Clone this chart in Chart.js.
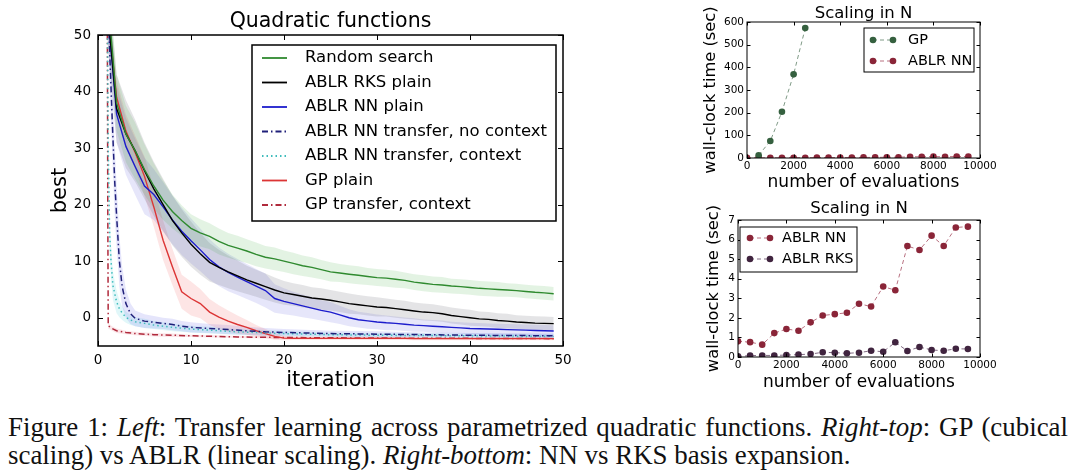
<!DOCTYPE html>
<html><head><meta charset="utf-8">
<script src="https://cdn.jsdelivr.net/npm/chart.js@4.4.1/dist/chart.umd.min.js"></script>
<style>
html,body{margin:0;padding:0;background:#fff;width:1080px;height:474px;overflow:hidden;}
canvas{position:absolute;display:block;}
#cap{position:absolute;left:8px;top:413px;font-family:"Liberation Serif","Times New Roman",serif;font-size:26.9px;line-height:28px;color:#111;white-space:nowrap;}
#cap .l1{display:block;width:1060px;text-align:justify;text-align-last:justify;}
#cap .l2{display:block;}
</style></head><body>
<canvas id="c1" width="600" height="395" style="left:0;top:0;width:600px;height:395px"></canvas>
<canvas id="c2" width="390" height="195" style="left:690px;top:0;width:390px;height:195px"></canvas>
<canvas id="c3" width="390" height="200" style="left:690px;top:195px;width:390px;height:200px"></canvas>
<div id="cap"><span class="l1">Figure 1: <i>Left</i>: Transfer learning across parametrized quadratic functions. <i>Right-top</i>: GP (cubical</span><span class="l2">scaling) vs ABLR (linear scaling). <i>Right-bottom</i>: NN vs RKS basis expansion.</span></div>
<script>
// ---------- Left chart data ----------
const iterations = [1,2,3,4,5,6,7,8,9,10,11,12,13,14,15,16,17,18,19,20,21,22,23,24,25,26,27,28,29,30,31,32,33,34,35,36,37,38,39,40,41,42,43,44,45,46,47,48,49];
const randomSearch = [58,38,32.5,29.5,26.2,23.3,20.8,18.8,17.2,15.8,15.0,14.4,13.5,12.8,12.3,11.8,11.2,10.7,10.4,10.0,9.6,9.2,8.9,8.5,8.1,7.9,7.7,7.5,7.3,7.1,7.0,6.8,6.6,6.3,6.1,5.9,5.8,5.6,5.5,5.35,5.2,5.1,5.0,4.9,4.8,4.65,4.5,4.4,4.25];
const randomSearchSpread = [5,5,5,5,4.5,4,3.5,3,2.7,2.5,2.4,2.3,2.3,2.2,2.2,2.1,2.1,2.0,2.0,1.9,1.9,1.8,1.8,1.7,1.7,1.6,1.6,1.6,1.5,1.5,1.5,1.5,1.4,1.4,1.4,1.4,1.4,1.3,1.3,1.3,1.3,1.3,1.3,1.2,1.2,1.2,1.2,1.2,1.2];
const ablrRksPlain = [55,37,32.5,29.5,26,22.8,20.0,17.2,15.0,13.0,11.3,9.8,8.9,8.1,7.4,6.7,6.1,5.5,4.9,4.4,4.1,3.8,3.5,3.3,3.1,2.8,2.5,2.3,2.1,1.9,1.8,1.6,1.4,1.2,1.0,0.9,0.7,0.4,0.2,0.0,-0.2,-0.3,-0.5,-0.6,-0.75,-0.85,-0.95,-1.0,-1.05];
const ablrRksSpread = [6,6,6,5.5,5,4.8,4.6,4.4,4.2,4.0,3.7,3.4,3.1,2.9,2.7,2.5,2.4,2.3,2.2,2.1,2.0,2.0,1.9,1.9,1.8,1.8,1.8,1.7,1.7,1.7,1.6,1.6,1.6,1.5,1.5,1.5,1.4,1.4,1.4,1.4,1.3,1.3,1.3,1.3,1.2,1.2,1.2,1.2,1.2];
const ablrNnPlain = [55,36,30.3,26.7,23.3,21.8,19.6,17.3,15.3,13.6,12.0,10.3,9.0,8.0,7.2,6.4,5.6,4.8,3.4,2.9,2.5,2.1,1.7,1.3,1.0,0.5,0.0,-0.35,-0.55,-0.75,-0.9,-1.0,-1.15,-1.3,-1.4,-1.5,-1.6,-1.7,-1.8,-1.9,-1.95,-2.0,-2.05,-2.1,-2.15,-2.2,-2.25,-2.3,-2.35];
const ablrNnSpread = [5,5,5,5,5,4.5,4.4,4.3,4.2,4.0,3.8,3.6,3.4,3.3,3.2,3.1,3.0,3.0,2.5,2.3,2.1,2.0,1.9,1.8,1.8,1.6,1.5,1.4,1.4,1.3,1.3,1.2,1.2,1.2,1.1,1.1,1.1,1.0,1.0,1.0,1.0,1.0,1.0,1.0,1.0,1.0,1.0,1.0,1.0];
const gpPlain = [55,39,33,29.2,25,19.6,13.7,9.0,4.6,3.4,2.5,1.0,0.1,-0.6,-1.2,-1.7,-2.3,-2.8,-3.3,-3.6,-3.65,-3.65,-3.65,-3.65,-3.65,-3.65,-3.65,-3.65,-3.65,-3.65,-3.65,-3.65,-3.65,-3.7,-3.7,-3.7,-3.7,-3.7,-3.7,-3.7,-3.7,-3.7,-3.7,-3.7,-3.7,-3.7,-3.7,-3.7,-3.7];
const gpPlainSpread = [3,3,3,3,3.5,3.5,3.5,3.2,3.0,3.0,2.6,2.3,2.1,1.9,1.6,1.3,1.0,0.8,0.6,0.4,0.3,0.3,0.3,0.3,0.3,0.3,0.3,0.3,0.3,0.3,0.3,0.3,0.3,0.3,0.3,0.3,0.3,0.3,0.3,0.3,0.3,0.3,0.3,0.3,0.3,0.3,0.3,0.3,0.3];

const nnNoCtxIter = [1,1.3,1.6,1.8,2.0,2.3,2.6,3.0,3.5,4,5,6,7,8,9,10,12,14,16,18,20,25,30,35,40,45,49];
const nnNoCtx = [60,45,32,24,18,10,5.5,2.5,0.7,-0.1,-0.6,-0.8,-1.0,-1.2,-1.5,-1.7,-1.9,-2.1,-2.3,-2.5,-2.6,-2.8,-2.9,-3.0,-3.1,-3.15,-3.2];
const nnNoCtxSpread = [6,6,6,6,5.5,4.5,3.5,2.5,1.8,1.4,1.2,1.1,1.0,1.0,0.9,0.9,0.8,0.8,0.7,0.7,0.6,0.5,0.5,0.4,0.4,0.4,0.4];
const nnCtxIter = [1,1.1,1.25,1.4,1.6,2.0,2.3,2.6,3.0,3.5,4,5,6,8,10,12,15,20,25,30,40,49];
const nnCtx = [55,30,15,10,5.7,2.8,1.6,0.8,0.1,-0.4,-0.7,-1.0,-1.3,-1.7,-2.0,-2.2,-2.5,-2.8,-3.0,-3.1,-3.2,-3.3];
const nnCtxSpread = [4,4,3.5,3,2.5,2,1.5,1.2,1.0,0.9,0.8,0.8,0.7,0.7,0.6,0.6,0.5,0.5,0.4,0.4,0.4,0.4];
const gpTransferIter = [1,1.05,1.1,1.5,2,3,4,6,8,10,15,20,30,40,49];
const gpTransfer = [55,20,-1.4,-1.9,-2.3,-2.6,-2.8,-3.0,-3.1,-3.2,-3.4,-3.5,-3.6,-3.65,-3.7];
const gpTransferSpread = [1,1,0.5,0.4,0.4,0.3,0.3,0.3,0.3,0.2,0.2,0.2,0.2,0.2,0.2];

const quadXTicks = [0,10,20,30,40,50];
const quadYTicks = [0,10,20,30,40,50];

// ---------- Right charts data ----------
const evalsGP = [500,1000,1500,2000,2500];
const timeGP = [12,75,204,369,573];
const evalsNN = [0,500,1000,1500,2000,2500,3000,3500,4000,4500,5000,5500,6000,6500,7000,7500,8000,8500,9000,9500];
const timeNN = [0.80,0.76,0.63,1.22,1.43,1.34,1.77,2.12,2.19,2.26,2.72,2.58,3.6,3.41,5.67,5.47,6.2,5.67,6.62,6.66];
const timeRKS = [0.03,0.07,0.08,0.08,0.1,0.12,0.15,0.24,0.22,0.19,0.22,0.32,0.27,0.75,0.31,0.51,0.36,0.32,0.42,0.41];
const evalTicks = [0,2000,4000,6000,8000,10000];
const topYTicks = [0,100,200,300,400,500,600];
const botYTicks = [0,1,2,3,4,5,6,7];

const FONT = '"DejaVu Sans", "Liberation Sans", sans-serif';
const pts = (xs, ys) => xs.map((x, i) => ({x, y: ys[i]}));
const ptsOff = (xs, ys, sp, s) => xs.map((x, i) => ({x, y: ys[i] + s * sp[i]}));
const plain = v => String(v);

// ---------- matplotlib-like frame / ticks / title / legend plugin ----------
const mplPlugin = {
  id: 'mpl',
  afterDraw(chart, args, o) {
    const ctx = chart.ctx, a = chart.chartArea;
    ctx.save();
    ctx.strokeStyle = '#000';
    ctx.lineWidth = 1;
    const xs = chart.scales.x, ys = chart.scales.y, tl = o.tickLen;
    const seg = (x1, y1, x2, y2) => { ctx.beginPath(); ctx.moveTo(x1, y1); ctx.lineTo(x2, y2); ctx.stroke(); };
    xs.ticks.forEach(t => { const p = Math.round(xs.getPixelForValue(t.value)) + 0.5; seg(p, a.bottom, p, a.bottom - tl); seg(p, a.top, p, a.top + tl); });
    ys.ticks.forEach(t => { const p = Math.round(ys.getPixelForValue(t.value)) + 0.5; seg(a.left, p, a.left + tl, p); seg(a.right, p, a.right - tl, p); });
    ctx.lineWidth = o.frameWidth;
    ctx.strokeRect(a.left, a.top, a.right - a.left, a.bottom - a.top);
    // title
    ctx.fillStyle = '#000';
    ctx.font = o.titleSize + 'px ' + FONT;
    ctx.textAlign = 'center'; ctx.textBaseline = 'middle';
    ctx.fillText(o.title, (a.left + a.right) / 2, o.titleY);
    // legend
    const L = o.legend;
    ctx.fillStyle = '#fff';
    ctx.fillRect(L.x, L.y, L.w, L.h);
    ctx.lineWidth = L.border; ctx.strokeStyle = '#000';
    ctx.strokeRect(L.x, L.y, L.w, L.h);
    ctx.font = L.size + 'px ' + FONT;
    ctx.textAlign = 'left';
    L.items.forEach((di, k) => {
      const ds = chart.data.datasets[di];
      const y = L.rowY + k * L.rowStep;
      ctx.save();
      ctx.strokeStyle = ds.borderColor; ctx.lineWidth = L.lineWidth || ds.borderWidth;
      ctx.setLineDash(ds.borderDash || []);
      seg(L.s1, y, L.s2, y);
      ctx.restore();
      if (L.markers) {
        ctx.fillStyle = ds.pointBackgroundColor;
        [L.s1, L.s2].forEach(px => { ctx.beginPath(); ctx.arc(px, y, ds.pointRadius, 0, Math.PI * 2); ctx.fill(); });
      }
      ctx.fillStyle = '#000';
      ctx.fillText(ds.label, L.tx, y);
    });
    ctx.restore();
  }
};

function lineDs(label, data, color, width, dash) {
  return {label, data, borderColor: color, borderWidth: width, borderDash: dash, pointRadius: 0, tension: 0, fill: false, order: 0};
}
function bandDs(xs, ys, sp, color) {
  return [
    {label: '_band', data: ptsOff(xs, ys, sp, 1), borderWidth: 0, pointRadius: 0, tension: 0, fill: '+1', backgroundColor: color, borderColor: 'rgba(0,0,0,0)', order: 5},
    {label: '_band', data: ptsOff(xs, ys, sp, -1), borderWidth: 0, pointRadius: 0, tension: 0, fill: false, borderColor: 'rgba(0,0,0,0)', order: 5}
  ];
}

const datasets1 = [
  lineDs('Random search', pts(iterations, randomSearch), '#2f8a2f', 1.4, []),
  lineDs('ABLR RKS plain', pts(iterations, ablrRksPlain), '#000000', 1.4, []),
  lineDs('ABLR NN plain', pts(iterations, ablrNnPlain), '#1c1ccc', 1.4, []),
  lineDs('ABLR NN transfer, no context', pts(nnNoCtxIter, nnNoCtx), '#20207a', 1.5, [6, 3, 1.5, 3]),
  lineDs('ABLR NN transfer, context', pts(nnCtxIter, nnCtx), '#3fbcbc', 1.5, [1.5, 3]),
  lineDs('GP plain', pts(iterations, gpPlain), '#dc3535', 1.4, []),
  lineDs('GP transfer, context', pts(gpTransferIter, gpTransfer), '#b02a3c', 1.5, [6, 3, 1.5, 3]),
  ...bandDs(iterations, randomSearch, randomSearchSpread, 'rgba(60,170,60,0.14)'),
  ...bandDs(iterations, ablrRksPlain, ablrRksSpread, 'rgba(90,90,100,0.16)'),
  ...bandDs(iterations, ablrNnPlain, ablrNnSpread, 'rgba(80,80,220,0.14)'),
  ...bandDs(iterations, gpPlain, gpPlainSpread, 'rgba(240,80,80,0.15)'),
  ...bandDs(nnNoCtxIter, nnNoCtx, nnNoCtxSpread, 'rgba(110,110,235,0.18)'),
  ...bandDs(nnCtxIter, nnCtx, nnCtxSpread, 'rgba(90,210,220,0.18)'),
  ...bandDs(gpTransferIter, gpTransfer, gpTransferSpread, 'rgba(230,90,110,0.15)')
];

const setTicks = arr => s => { s.ticks = arr.map(v => ({value: v})); };

new Chart(document.getElementById('c1'), {
  type: 'line',
  data: {datasets: datasets1},
  options: {
    responsive: false, animation: false, devicePixelRatio: 1,
    layout: {padding: {left: 0, top: 35, right: 37, bottom: 0}},
    plugins: {
      legend: {display: false}, tooltip: {enabled: false},
      mpl: {tickLen: 5, frameWidth: 1.5, title: 'Quadratic functions', titleSize: 20.5, titleY: 22,
        legend: {x: 252, y: 45, w: 304, h: 176, border: 1.5, size: 16.5, rowY: 58, rowStep: 24.5, s1: 262, s2: 287, tx: 305, lineWidth: 1.8, markers: false, items: [0,1,2,3,4,5,6]}}
    },
    scales: {
      x: {type: 'linear', min: 0, max: 50, afterBuildTicks: setTicks(quadXTicks), afterFit: s => { s.height = 49; },
        grid: {display: false, drawTicks: false}, border: {display: false},
        ticks: {font: {family: FONT, size: 13.5}, color: '#000', padding: 6, maxRotation: 0, callback: plain},
        title: {display: true, text: 'iteration', color: '#000', font: {family: FONT, size: 21}, padding: {top: 0, bottom: 2}}},
      y: {type: 'linear', min: -5, max: 50, afterBuildTicks: setTicks(quadYTicks), afterFit: s => { s.width = 98; },
        grid: {display: false, drawTicks: false}, border: {display: false},
        ticks: {font: {family: FONT, size: 13.5}, color: '#000', padding: 7, callback: plain},
        title: {display: true, text: 'best', color: '#000', font: {family: FONT, size: 21}, padding: {top: 48, bottom: 0}}}
    }
  },
  plugins: [mplPlugin]
});

function scatterDs(label, xs, ys, dark, light) {
  return {label, data: pts(xs, ys), showLine: true, borderColor: light, borderWidth: 1, borderDash: [4, 3],
    pointRadius: 3.3, pointBackgroundColor: dark, pointBorderColor: dark, pointBorderWidth: 0, tension: 0, fill: false};
}

function rightOpts(yMax, yTicks, padTop, yWidth, xHeight, titleY, legend, yTitlePad) {
  return {
    responsive: false, animation: false, devicePixelRatio: 1,
    layout: {padding: {left: 0, top: padTop, right: 100, bottom: 0}},
    plugins: {legend: {display: false}, tooltip: {enabled: false},
      mpl: {tickLen: 3.5, frameWidth: 1, title: 'Scaling in N', titleSize: 16.5, titleY, legend}},
    scales: {
      x: {type: 'linear', min: 0, max: 10000, afterBuildTicks: setTicks(evalTicks), afterFit: s => { s.height = xHeight; },
        grid: {display: false, drawTicks: false}, border: {display: false},
        ticks: {font: {family: FONT, size: 10.5}, color: '#000', padding: 2, maxRotation: 0, callback: plain},
        title: {display: true, text: 'number of evaluations', color: '#000', font: {family: FONT, size: 17}, padding: {top: 0, bottom: 2}}},
      y: {type: 'linear', min: 0, max: yMax, afterBuildTicks: setTicks(yTicks), afterFit: s => { s.width = yWidth; },
        grid: {display: false, drawTicks: false}, border: {display: false},
        ticks: {font: {family: FONT, size: 10.5}, color: '#000', padding: 3, callback: plain},
        title: {display: true, text: 'wall-clock time (sec)', color: '#000', font: {family: FONT, size: 16.3}, padding: {top: yTitlePad, bottom: 0}}}
    }
  };
}

new Chart(document.getElementById('c2'), {
  type: 'line',
  data: {datasets: [
    scatterDs('GP', evalsGP, timeGP, '#35603f', '#7f9a86'),
    scatterDs('ABLR NN', evalsNN, timeNN, '#8a2538', '#b87080')
  ]},
  options: rightOpts(600, topYTicks, 22, 57, 37, 14,
    {x: 174, y: 28, w: 110, h: 44, border: 1, size: 14.5, rowY: 40, rowStep: 21, s1: 183, s2: 203, tx: 218, markers: true, items: [0, 1]}, 11),
  plugins: [mplPlugin]
});

new Chart(document.getElementById('c3'), {
  type: 'line',
  data: {datasets: [
    scatterDs('ABLR NN', evalsNN, timeNN, '#8a2538', '#b87080'),
    scatterDs('ABLR RKS', evalsNN, timeRKS, '#40243f', '#806a82')
  ]},
  options: rightOpts(7, botYTicks, 25, 48, 38, 14,
    {x: 50, y: 32, w: 117, h: 45, border: 1, size: 14.5, rowY: 43, rowStep: 21, s1: 60, s2: 80, tx: 92, markers: true, items: [0, 1]}, 14),
  plugins: [mplPlugin]
});
</script>
</body></html>
